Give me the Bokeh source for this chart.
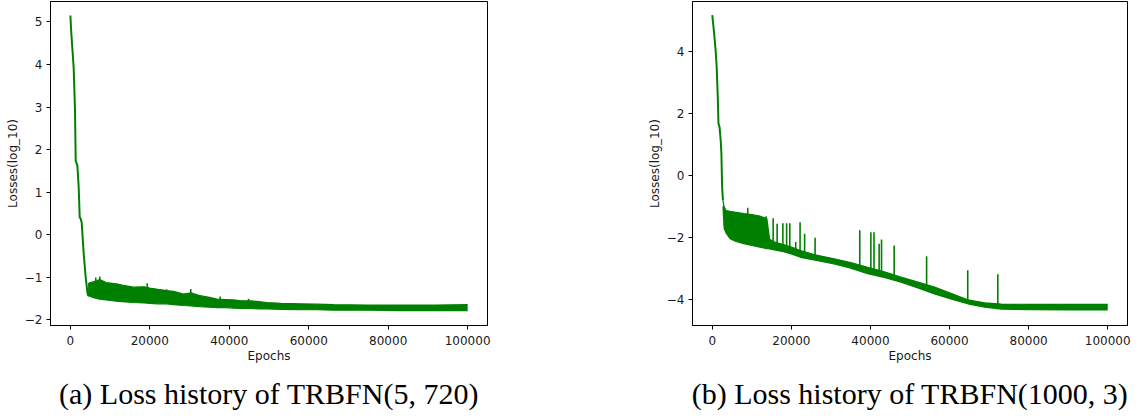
from bokeh.plotting import figure
from bokeh.layouts import row
from bokeh.models import Range1d, FixedTicker, CustomJSTickFormatter, Title
from bokeh.embed import file_html
from bokeh.resources import INLINE

GREEN = "#008000"

# ---------------- data: panel (a) TRBFN(5, 720) ----------------
a_desc_epochs = [0, 250, 830, 1170, 1340, 1500, 1770, 2100, 2350, 2600, 2850, 3360, 3860, 4290, 4460]
a_desc_loss = [5.15, 4.72, 3.93, 2.92, 1.74, 1.70, 1.62, 1.11, 0.41, 0.38, 0.29, -0.45, -1.00, -1.35, -1.43]

a_band_epochs = [4460, 5000, 6000, 7400, 9000, 11600, 13000, 15800, 18600, 20000, 22000, 24200, 26000,
                 28500, 30400, 32650, 35000, 36900, 39000, 41060, 43000, 45300, 47500, 49500, 53000,
                 57900, 62000, 66300, 75000, 83100, 92000, 100000]
a_band_upper = [-1.15, -1.12, -1.10, -1.05, -1.12, -1.15, -1.18, -1.23, -1.22, -1.25, -1.28, -1.31, -1.33,
                -1.39, -1.36, -1.43, -1.47, -1.51, -1.52, -1.53, -1.55, -1.55, -1.57, -1.59, -1.61,
                -1.62, -1.63, -1.64, -1.65, -1.65, -1.65, -1.64]
a_band_lower = [-1.43, -1.45, -1.48, -1.51, -1.53, -1.56, -1.57, -1.59, -1.60, -1.61, -1.62, -1.62, -1.64,
                -1.66, -1.67, -1.69, -1.70, -1.71, -1.71, -1.72, -1.73, -1.73, -1.74, -1.74, -1.75,
                -1.76, -1.76, -1.77, -1.77, -1.78, -1.78, -1.78]
a_spike_epochs = [6400, 7400, 19350, 24200, 30300, 37700, 44850]
a_spike_top = [-1.00, -0.98, -1.14, -1.28, -1.27, -1.45, -1.50]
a_spike_base = [-1.48, -1.51, -1.60, -1.62, -1.67, -1.70, -1.73]

# ---------------- data: panel (b) TRBFN(1000, 3) ----------------
b_desc_epochs = [0, 480, 850, 1120, 1390, 1570, 1840, 2130, 2310, 2490, 2700]
b_desc_loss = [5.18, 4.58, 4.04, 3.50, 2.54, 1.68, 1.57, 1.14, 0.71, -0.37, -0.80]

b_band_epochs = [2700, 3000, 3500, 4500, 6000, 8000, 10000, 12000, 13800, 14500, 16000, 18000, 20000,
                 22300, 26000, 30800, 35000, 39300, 43500, 47700, 52000, 56200, 60500, 64600, 68900,
                 73100, 80000, 90000, 100000]
b_band_upper = [-0.80, -1.00, -1.12, -1.15, -1.18, -1.22, -1.25, -1.30, -1.38, -2.05, -2.15, -2.22, -2.30,
                -2.41, -2.55, -2.68, -2.80, -2.95, -3.10, -3.27, -3.43, -3.59, -3.80, -4.00, -4.10,
                -4.14, -4.15, -4.15, -4.15]
b_band_lower = [-1.00, -1.70, -1.85, -2.03, -2.12, -2.19, -2.25, -2.30, -2.35, -2.36, -2.40, -2.45, -2.52,
                -2.63, -2.72, -2.84, -2.98, -3.16, -3.28, -3.43, -3.62, -3.81, -3.98, -4.13, -4.24,
                -4.30, -4.32, -4.33, -4.33]
b_spike_epochs = [8970, 13600, 15400, 16400, 17850, 18800, 19600, 21100, 22200, 23350, 26000,
                  37300, 40100, 40900, 42200, 42800, 46000, 54200, 64600, 72200]
b_spike_top = [-1.03, -1.31, -1.37, -1.55, -1.53, -1.53, -1.53, -2.14, -1.50, -1.87, -2.00,
               -1.76, -1.82, -1.82, -2.19, -2.06, -2.25, -2.60, -3.05, -3.18]
b_spike_base = [-2.22, -2.35, -2.38, -2.40, -2.45, -2.48, -2.50, -2.56, -2.60, -2.64, -2.72,
                -3.05, -3.18, -3.20, -3.25, -3.27, -3.37, -3.72, -4.13, -4.30]

x_ticks = [0, 20000, 40000, 60000, 80000, 100000]
a_y_ticks = [-2, -1, 0, 1, 2, 3, 4, 5]
b_y_ticks = [-4, -2, 0, 2, 4]

caption_a = "(a) Loss history of TRBFN(5, 720)"
caption_b = "(b) Loss history of TRBFN(1000, 3)"
x_label = "Epochs"
y_label = "Losses(log_10)"

FMT = CustomJSTickFormatter(code="return (tick < 0 ? '\\u2212' : '') + Math.abs(tick).toString();")


def make_panel(width, left, right, xr, yr, yticks, desc_x, desc_y, bx, bu, bl, sx, st, sb, caption, cap_off):
    p = figure(width=width, height=419, output_backend="svg", toolbar_location=None,
               x_range=Range1d(*xr), y_range=Range1d(*yr),
               min_border_left=left, min_border_right=right, min_border_top=1, min_border_bottom=94)
    p.background_fill_color = "white"
    p.border_fill_color = "white"
    p.outline_line_color = "#000000"
    p.outline_line_width = 1
    p.grid.visible = False

    p.varea(x=bx, y1=bl, y2=bu, fill_color=GREEN)
    p.line(bx, bu, line_color=GREEN, line_width=1.2)
    p.line(bx, bl, line_color=GREEN, line_width=1.2)
    p.segment(x0=sx, y0=sb, x1=sx, y1=st, line_color=GREEN, line_width=1.6)
    p.line(desc_x, desc_y, line_color=GREEN, line_width=2)

    for ax, ticks, lab in ((p.xaxis[0], x_ticks, x_label), (p.yaxis[0], yticks, y_label)):
        ax.ticker = FixedTicker(ticks=ticks)
        ax.formatter = FMT
        ax.minor_tick_line_color = None
        ax.major_tick_out = 4
        ax.major_tick_in = 0
        ax.major_tick_line_color = "#000000"
        ax.axis_line_color = "#000000"
        ax.major_label_text_font = "DejaVu Sans"
        ax.major_label_text_font_size = "12px"
        ax.major_label_text_color = "#1a1a1a"
        ax.axis_label = lab
        ax.axis_label_text_font = "DejaVu Sans"
        ax.axis_label_text_font_size = "12px"
        ax.axis_label_text_font_style = "normal"
        ax.axis_label_text_color = "#1a1a1a"
        ax.major_label_standoff = 4
        ax.axis_label_standoff = 3
    p.xaxis[0].major_label_standoff = 6
    p.xaxis[0].axis_label_standoff = 1
    p.yaxis[0].axis_label_standoff = 2

    t = Title(text=caption, align="center", text_font="Liberation Serif", text_font_size="30px",
              text_font_style="normal", text_color="#000000", standoff=18, offset=cap_off)
    p.add_layout(t, "below")
    return p


p1 = make_panel(569, 50, 82, (-5000, 105000), (-2.13, 5.48), a_y_ticks,
                a_desc_epochs, a_desc_loss, a_band_epochs, a_band_upper, a_band_lower,
                a_spike_epochs, a_spike_top, a_spike_base, caption_a, -10)
p2 = make_panel(569, 123, 11, (-5000, 105000), (-4.83, 5.62), b_y_ticks,
                b_desc_epochs, b_desc_loss, b_band_epochs, b_band_upper, b_band_lower,
                b_spike_epochs, b_spike_top, b_spike_base, caption_b, 6)

layout = row(p1, p2)
open("out.html", "w").write(file_html(layout, INLINE))
